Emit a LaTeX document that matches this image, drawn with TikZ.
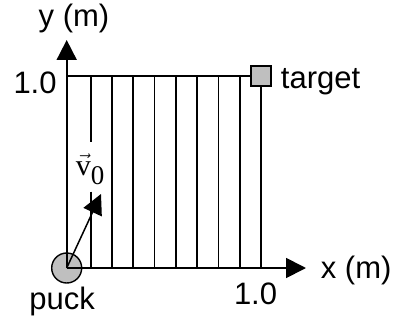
\documentclass[tikz,border=0pt]{standalone}
\usepackage{fontspec}
\setmainfont{Liberation Sans}
\newfontfamily\serifv{Liberation Serif}
\usetikzlibrary{arrows.meta}
\definecolor{puckgray}{gray}{0.75}

\begin{document}
\begin{tikzpicture}[x=1pt, y=1pt, line width=1.8pt,
    >={Triangle[length=20pt, width=20pt]},
    txt/.style={inner sep=0pt, font=\fontsize{31}{36}\selectfont}]

    \useasboundingbox (0,0) rectangle (409,322);

    % --- Coordinates ---
    \coordinate (O) at (66.7,54);
    \coordinate (X) at (306,54);
    \coordinate (Y) at (66.7,282);
    \coordinate (T) at (66.7,246);
    \coordinate (C) at (261,246);
    \coordinate (R) at (261,54);
    \coordinate (V) at (101,128);

    % --- Puck ---
    \node[circle, draw, fill=puckgray, minimum size=30pt, inner sep=0pt, line width=1.4pt] (puck) at (O) {};

    % --- Grid Lines ---
    \draw (90.7,246) -- (90.7,180);
    \draw (90.7,130.3) -- (90.7,54);
    \foreach \k in {1,...,7}
        \draw (90.7+\k*21.29,54) -- (90.7+\k*21.29,246);
    \draw (T) -- (C) -- (R);

    % --- Axes and Velocity ---
    \draw[->] (O) -- (X);
    \draw[->] (O) -- (Y);
    \draw[->, line width=1.5pt] (O) -- (V);

    % --- Target ---
    \node[draw, fill=puckgray, minimum size=20pt, inner sep=0pt, line width=1.3pt] (target) at (C) {};

    % --- Labels ---
    \node[txt, anchor=base] (ylab) at (74,295.5) {y (m)};
    \node[txt, anchor=base east] (ytick) at (57.5,229) {1.0};
    \node[txt, anchor=base west] (tlab) at (280,233.5) {target};
    \node[txt, anchor=base west] (xlab) at (320,44) {x (m)};
    \node[txt, anchor=base east] (xtick) at (278,18) {1.0};
    \node[txt, anchor=base west] (plab) at (28.5,12.7) {puck};
    \node[inner sep=0pt, anchor=base west, font=\serifv\fontsize{30}{30}\selectfont] (vlab) at (75,147)
        {$\vec{\hbox{v}}$\raisebox{-9pt}{\fontsize{27}{27}\selectfont 0}};

\end{tikzpicture}
\end{document}
